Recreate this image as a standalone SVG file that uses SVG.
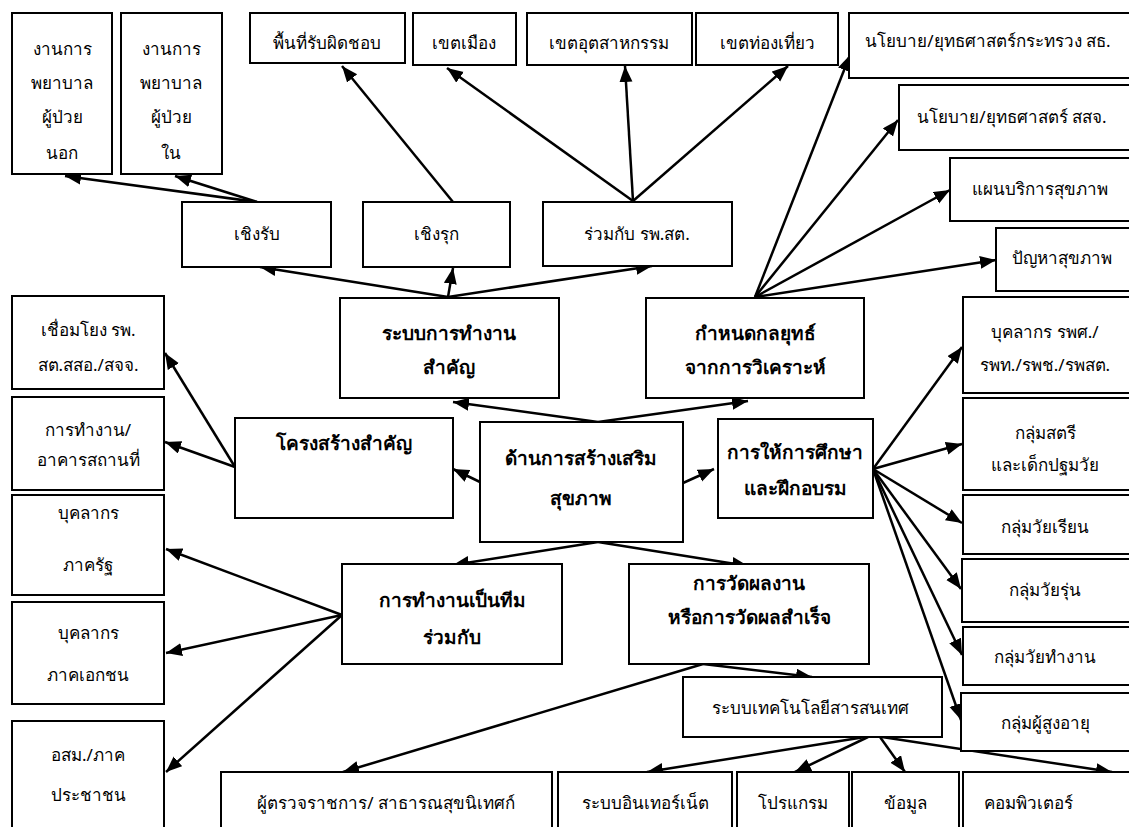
<svg xmlns="http://www.w3.org/2000/svg" width="1129" height="827" viewBox="0 0 1129 827">
  <defs>
    <style>
      .box { fill: #ffffff; stroke: #000000; stroke-width: 2; }
      .t { font-family: "Noto Sans", "DejaVu Sans", sans-serif; font-size: 17px; fill: #000000; text-anchor: middle; }
      .b { font-family: "Noto Sans", "DejaVu Sans", sans-serif; font-size: 19px; font-weight: bold; fill: #000000; text-anchor: middle; }
      .edge { fill: none; stroke: #000000; stroke-width: 2.5; marker-end: url(#arrow); }
    </style>
    <marker id="arrow" markerUnits="userSpaceOnUse" markerWidth="18" markerHeight="14" refX="16" refY="6.5" orient="auto">
      <path d="M0,0 L16,6.5 L0,13 z" fill="#000000"/>
    </marker>
  </defs>
  <rect width="1129" height="827" fill="#ffffff"/>

  <!-- connectors -->
  <g id="connectors">
    <!-- centre to main branches -->
    <line class="edge" x1="598" y1="422" x2="453" y2="402"/>
    <line class="edge" x1="598" y1="422" x2="748" y2="401"/>
    <line class="edge" x1="480" y1="482" x2="453" y2="469"/>
    <line class="edge" x1="683" y1="483" x2="714" y2="469"/>
    <line class="edge" x1="598" y1="542" x2="453" y2="565"/>
    <line class="edge" x1="598" y1="542" x2="748" y2="566"/>
    <!-- working system -->
    <line class="edge" x1="448" y1="297" x2="260" y2="267"/>
    <line class="edge" x1="448" y1="297" x2="453" y2="268"/>
    <line class="edge" x1="448" y1="297" x2="652" y2="266"/>
    <!-- reactive -->
    <line class="edge" x1="257" y1="202" x2="65" y2="176"/>
    <line class="edge" x1="257" y1="202" x2="175" y2="176"/>
    <!-- proactive -->
    <line class="edge" x1="453" y1="202" x2="342" y2="66"/>
    <!-- with sub-district hospitals -->
    <line class="edge" x1="633" y1="201" x2="447" y2="68"/>
    <line class="edge" x1="633" y1="201" x2="625" y2="66"/>
    <line class="edge" x1="633" y1="201" x2="788" y2="66"/>
    <!-- strategy -->
    <line class="edge" x1="755" y1="297" x2="850" y2="55"/>
    <line class="edge" x1="755" y1="297" x2="898" y2="120"/>
    <line class="edge" x1="755" y1="297" x2="950" y2="190"/>
    <line class="edge" x1="755" y1="297" x2="996" y2="260"/>
    <!-- structure -->
    <line class="edge" x1="235" y1="467" x2="165" y2="353"/>
    <line class="edge" x1="235" y1="467" x2="165" y2="442"/>
    <!-- education and training -->
    <line class="edge" x1="873" y1="469" x2="962" y2="347"/>
    <line class="edge" x1="873" y1="469" x2="962" y2="444"/>
    <line class="edge" x1="873" y1="469" x2="962" y2="523"/>
    <line class="edge" x1="873" y1="469" x2="961" y2="589"/>
    <line class="edge" x1="873" y1="469" x2="962" y2="655"/>
    <line class="edge" x1="873" y1="469" x2="961" y2="720"/>
    <!-- teamwork -->
    <line class="edge" x1="342" y1="615" x2="166" y2="549"/>
    <line class="edge" x1="342" y1="615" x2="166" y2="653"/>
    <line class="edge" x1="342" y1="615" x2="166" y2="772"/>
    <!-- performance measurement -->
    <line class="edge" x1="703" y1="664" x2="343" y2="772"/>
    <line class="edge" x1="703" y1="664" x2="812" y2="677"/>
    <!-- information technology -->
    <line class="edge" x1="865" y1="737" x2="647" y2="772"/>
    <line class="edge" x1="868" y1="737" x2="795" y2="772"/>
    <line class="edge" x1="880" y1="737" x2="905" y2="772"/>
    <line class="edge" x1="882" y1="737" x2="1112" y2="772"/>
  </g>

  <!-- centre -->
  <g id="n-centre">
    <rect class="box" x="480" y="422" width="203" height="120"/>
    <text class="b" x="581" y="465">ด้านการสร้างเสริม</text>
    <text class="b" x="581" y="505">สุขภาพ</text>
  </g>

  <!-- main branches -->
  <g id="n-work-system">
    <rect class="box" x="340" y="298" width="219" height="100"/>
    <text class="b" x="449" y="340">ระบบการทำงาน</text>
    <text class="b" x="449" y="374">สำคัญ</text>
  </g>
  <g id="n-strategy">
    <rect class="box" x="646" y="298" width="218" height="100"/>
    <text class="b" x="755" y="340">กำหนดกลยุทธ์</text>
    <text class="b" x="755" y="374">จากการวิเคราะห์</text>
  </g>
  <g id="n-structure">
    <rect class="box" x="235" y="418" width="218" height="100"/>
    <text class="b" x="344" y="450">โครงสร้างสำคัญ</text>
  </g>
  <g id="n-education">
    <rect class="box" x="718" y="419" width="155" height="99"/>
    <text class="b" x="795" y="459">การให้การศึกษา</text>
    <text class="b" x="795" y="495">และฝึกอบรม</text>
  </g>
  <g id="n-teamwork">
    <rect class="box" x="342" y="564" width="220" height="100"/>
    <text class="b" x="452" y="607">การทำงานเป็นทีม</text>
    <text class="b" x="452" y="644">ร่วมกับ</text>
  </g>
  <g id="n-measure">
    <rect class="box" x="629" y="564" width="240" height="100"/>
    <text class="b" x="749" y="590">การวัดผลงาน</text>
    <text class="b" x="749" y="624">หรือการวัดผลสำเร็จ</text>
  </g>

  <!-- work system children -->
  <g id="n-reactive">
    <rect class="box" x="182" y="202" width="149" height="65"/>
    <text class="t" x="257" y="240">เชิงรับ</text>
  </g>
  <g id="n-proactive">
    <rect class="box" x="363" y="202" width="147" height="65"/>
    <text class="t" x="436" y="240">เชิงรุก</text>
  </g>
  <g id="n-with-hospital">
    <rect class="box" x="543" y="202" width="189" height="64"/>
    <text class="t" x="637" y="240">ร่วมกับ รพ.สต.</text>
  </g>
  <g id="n-opd">
    <rect class="box" x="12" y="13" width="100" height="161"/>
    <text class="t" x="62" y="55">งานการ</text>
    <text class="t" x="62" y="89">พยาบาล</text>
    <text class="t" x="62" y="123">ผู้ป่วย</text>
    <text class="t" x="62" y="159">นอก</text>
  </g>
  <g id="n-ipd">
    <rect class="box" x="121" y="13" width="101" height="161"/>
    <text class="t" x="171" y="55">งานการ</text>
    <text class="t" x="171" y="89">พยาบาล</text>
    <text class="t" x="171" y="123">ผู้ป่วย</text>
    <text class="t" x="171" y="159">ใน</text>
  </g>
  <g id="n-area">
    <rect class="box" x="250" y="13" width="155" height="50"/>
    <text class="t" x="327" y="49">พื้นที่รับผิดชอบ</text>
  </g>
  <g id="n-urban">
    <rect class="box" x="413" y="13" width="103" height="52"/>
    <text class="t" x="464" y="49">เขตเมือง</text>
  </g>
  <g id="n-industrial">
    <rect class="box" x="527" y="13" width="165" height="52"/>
    <text class="t" x="609" y="49">เขตอุตสาหกรรม</text>
  </g>
  <g id="n-tourism">
    <rect class="box" x="696" y="13" width="142" height="52"/>
    <text class="t" x="767" y="49">เขตท่องเที่ยว</text>
  </g>

  <!-- strategy children -->
  <g id="n-policy-moph">
    <rect class="box" x="849" y="13" width="285" height="65"/>
    <text class="t" x="988" y="47">นโยบาย/ยุทธศาสตร์กระทรวง สธ.</text>
  </g>
  <g id="n-policy-ppho">
    <rect class="box" x="899" y="85" width="235" height="65"/>
    <text class="t" x="1012" y="123">นโยบาย/ยุทธศาสตร์ สสจ.</text>
  </g>
  <g id="n-service-plan">
    <rect class="box" x="950" y="158" width="184" height="63"/>
    <text class="t" x="1040" y="195">แผนบริการสุขภาพ</text>
  </g>
  <g id="n-health-problems">
    <rect class="box" x="996" y="228" width="138" height="63"/>
    <text class="t" x="1062" y="264">ปัญหาสุขภาพ</text>
  </g>

  <!-- structure children -->
  <g id="n-link">
    <rect class="box" x="12" y="296" width="152" height="93"/>
    <text class="t" x="88" y="336">เชื่อมโยง รพ.</text>
    <text class="t" x="88" y="371">สต.สสอ./สจจ.</text>
  </g>
  <g id="n-building">
    <rect class="box" x="12" y="397" width="152" height="93"/>
    <text class="t" x="88" y="436">การทำงาน/</text>
    <text class="t" x="88" y="466">อาคารสถานที่</text>
  </g>

  <!-- teamwork children -->
  <g id="n-public-staff">
    <rect class="box" x="12" y="495" width="152" height="100"/>
    <text class="t" x="88" y="519">บุคลากร</text>
    <text class="t" x="88" y="571">ภาครัฐ</text>
  </g>
  <g id="n-private-staff">
    <rect class="box" x="12" y="602" width="152" height="102"/>
    <text class="t" x="88" y="639">บุคลากร</text>
    <text class="t" x="88" y="681">ภาคเอกชน</text>
  </g>
  <g id="n-volunteers">
    <rect class="box" x="12" y="721" width="152" height="110"/>
    <text class="t" x="88" y="761">อสม./ภาค</text>
    <text class="t" x="88" y="801">ประชาชน</text>
  </g>

  <!-- education children -->
  <g id="n-staff-hospitals">
    <rect class="box" x="963" y="297" width="171" height="96"/>
    <text class="t" x="1045" y="338">บุคลากร รพศ./</text>
    <text class="t" x="1045" y="371">รพท./รพช./รพสต.</text>
  </g>
  <g id="n-women-children">
    <rect class="box" x="963" y="398" width="171" height="92"/>
    <text class="t" x="1045" y="439">กลุ่มสตรี</text>
    <text class="t" x="1045" y="471">และเด็กปฐมวัย</text>
  </g>
  <g id="n-school-age">
    <rect class="box" x="963" y="495" width="171" height="59"/>
    <text class="t" x="1045" y="533">กลุ่มวัยเรียน</text>
  </g>
  <g id="n-teen">
    <rect class="box" x="962" y="559" width="172" height="63"/>
    <text class="t" x="1045" y="596">กลุ่มวัยรุ่น</text>
  </g>
  <g id="n-working-age">
    <rect class="box" x="963" y="627" width="171" height="58"/>
    <text class="t" x="1045" y="663">กลุ่มวัยทำงาน</text>
  </g>
  <g id="n-elderly">
    <rect class="box" x="961" y="693" width="173" height="58"/>
    <text class="t" x="1045" y="729">กลุ่มผู้สูงอายุ</text>
  </g>

  <!-- measurement children -->
  <g id="n-it-system">
    <rect class="box" x="683" y="677" width="259" height="60"/>
    <text class="t" x="810" y="714">ระบบเทคโนโลยีสารสนเทศ</text>
  </g>
  <g id="n-inspector">
    <rect class="box" x="221" y="772" width="331" height="60"/>
    <text class="t" x="386" y="809">ผู้ตรวจราชการ/ สาธารณสุขนิเทศก์</text>
  </g>
  <g id="n-internet">
    <rect class="box" x="558" y="772" width="174" height="60"/>
    <text class="t" x="645" y="809">ระบบอินเทอร์เน็ต</text>
  </g>
  <g id="n-program">
    <rect class="box" x="737" y="772" width="112" height="60"/>
    <text class="t" x="793" y="809">โปรแกรม</text>
  </g>
  <g id="n-data">
    <rect class="box" x="852" y="772" width="107" height="60"/>
    <text class="t" x="905" y="809">ข้อมูล</text>
  </g>
  <g id="n-computer">
    <rect class="box" x="963" y="772" width="171" height="60"/>
    <text class="t" x="1028" y="809">คอมพิวเตอร์</text>
  </g>
</svg>
